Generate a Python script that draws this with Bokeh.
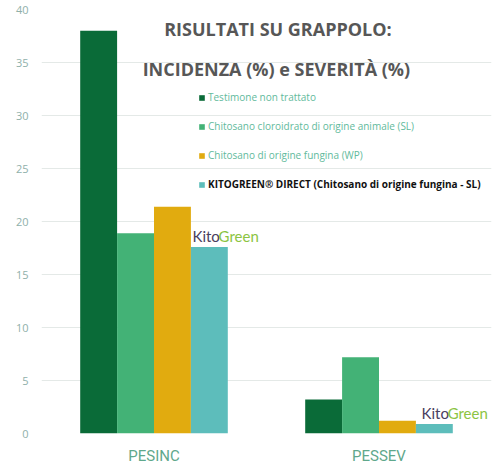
from bokeh.plotting import figure
from bokeh.models import Range1d, FactorRange, SingleIntervalTicker, Label, Legend, LegendItem, ColumnDataSource
from bokeh.transform import dodge
from bokeh.embed import file_html
from bokeh.resources import INLINE

categories = ["PESINC", "PESSEV"]
series_names = [
    "Testimone non trattato",
    "Chitosano cloroidrato di origine animale (SL)",
    "Chitosano di origine fungina (WP)",
    "KITOGREEN® DIRECT (Chitosano di origine fungina - SL)",
]
testimone = [38.0, 3.2]
animale_sl = [18.9, 7.2]
fungina_wp = [21.4, 1.2]
kitogreen_sl = [17.6, 0.9]
y_ticks_interval = 5

colors = ["#0a6b38", "#43b276", "#e1ab0f", "#5dbdbb"]
legend_text_colors = ["#62ba9c", "#62ba9c", "#62ba9c", "#111111"]
legend_font_styles = ["normal", "normal", "normal", "bold"]

source = ColumnDataSource(dict(cat=categories, s0=testimone, s1=animale_sl, s2=fungina_wp, s3=kitogreen_sl))

p = figure(width=499, height=470, x_range=FactorRange(*categories), y_range=Range1d(0, 40),
           output_backend="svg", toolbar_location=None,
           min_border_left=41, min_border_right=8, min_border_top=9, min_border_bottom=37)
p.outline_line_color = None
p.background_fill_color = "white"
p.border_fill_color = "white"

bw = 0.164
offsets = [-1.5 * bw, -0.5 * bw, 0.5 * bw, 1.5 * bw]
renderers = []
for i, key in enumerate(["s0", "s1", "s2", "s3"]):
    r = p.vbar(x=dodge("cat", offsets[i], range=p.x_range), top=key, width=bw, bottom=0,
               source=source, fill_color=colors[i], line_color=None)
    renderers.append(r)

# axes
p.xgrid.grid_line_color = None
p.ygrid.grid_line_color = "#e4e9e7"
p.ygrid.grid_line_width = 1
p.yaxis.ticker = SingleIntervalTicker(interval=y_ticks_interval)
for ax in (p.xaxis, p.yaxis):
    ax.axis_line_color = None
    ax.major_tick_line_color = None
    ax.minor_tick_line_color = None
    ax.major_tick_out = 0
    ax.major_tick_in = 0
    ax.minor_tick_out = 0
    ax.minor_tick_in = 0
p.yaxis.major_label_text_color = "#8fb0aa"
p.yaxis.major_label_text_font = "Open Sans"
p.yaxis.major_label_text_font_size = "11px"
p.yaxis.major_label_standoff = 13
p.xaxis.major_label_text_color = "#5fa88c"
p.xaxis.major_label_text_font = "Roboto"
p.xaxis.major_label_text_font_size = "15px"
p.xaxis.major_label_standoff = 13

# title
title_font = "Open Sans"
p.add_layout(Label(x=1.051, y=38.2, text="RISULTATI SU GRAPPOLO:", text_align="center",
                   text_baseline="middle", text_font=title_font, text_font_style="bold",
                   text_font_size="18px", text_color="#575757"))
p.add_layout(Label(x=1.044, y=34.35, text="INCIDENZA (%) e SEVERITÀ (%)", text_align="center",
                   text_baseline="middle", text_font=title_font, text_font_style="bold",
                   text_font_size="18px", text_color="#575757"))

# legend: one legend per item so each can carry its own text style
legend_y = [329, 300, 271, 242]
for i in range(4):
    lg = Legend(items=[LegendItem(label=series_names[i], renderers=[renderers[i]])],
                location=(157, legend_y[i]), orientation="vertical",
                glyph_width=7, glyph_height=7, label_height=10, label_standoff=3,
                padding=0, margin=0, spacing=0,
                background_fill_alpha=0, border_line_alpha=0,
                label_text_font="Open Sans", label_text_font_size="10px",
                label_text_color=legend_text_colors[i], label_text_font_style=legend_font_styles[i])
    p.add_layout(lg, "center")

# KitoGreen logos
for (lx, ly) in [(0.671, 18.6), (1.689, 1.9)]:
    p.add_layout(Label(x=lx, y=ly, text="Kito", text_font="Lato", text_font_size="15px",
                       text_color="#4a4060", text_baseline="alphabetic"))
    p.add_layout(Label(x=lx + 0.116, y=ly, text="Green", text_font="Lato", text_font_size="15px",
                       text_color="#8cc443", text_baseline="alphabetic"))

open("out.html", "w").write(file_html(p, INLINE))
